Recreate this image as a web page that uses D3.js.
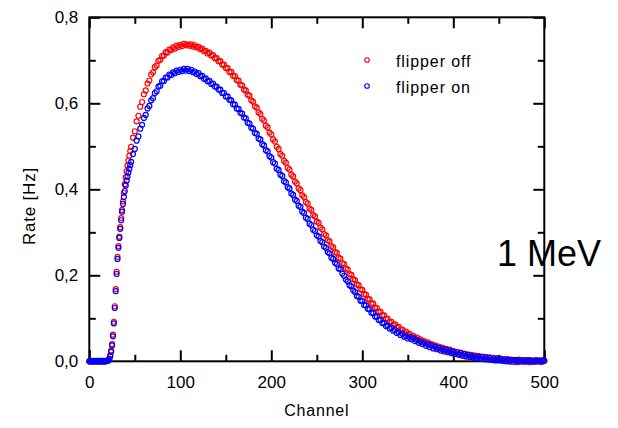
<!DOCTYPE html>
<html>
<head>
<meta charset="utf-8">
<script src="https://cdn.jsdelivr.net/npm/d3@7"></script>
<style>
  html, body { margin: 0; padding: 0; background: #ffffff; }
  svg { display: block; }
  text { font-family: "Liberation Sans", Arial, sans-serif; fill: #000; }
</style>
</head>
<body>
<svg id="chart" width="618" height="428"></svg>
<script>
// ---------------- data ----------------
const xTicks = [0, 100, 200, 300, 400, 500];
const yTicks = [0, 0.2, 0.4, 0.6, 0.8];
const yTickLabels = ["0,0", "0,2", "0,4", "0,6", "0,8"];
const seriesNames = ["flipper off", "flipper on"];
const seriesColors = ["#ff0000", "#0000ff"];

const channelsFine = [
  0,1,2,3,4,5,6,7,8,9,
  10,11,12,13,14,15,16,17,18,19,
  20,21,22,23,24,25,26,27,28,29,
  30,31,32,33,34,35,36,37,38,39,
  40,41,42,43,44,45
];
const offFine = [
  0.000,0.001,0.000,0.000,0.001,0.000,0.000,0.001,0.000,0.000,
  0.001,0.000,0.000,0.001,0.000,0.000,0.001,0.000,0.001,0.001,
  0.002,0.003,0.006,0.014,0.025,0.040,0.062,0.092,0.128,0.168,
  0.208,0.243,0.268,0.290,0.312,0.333,0.352,0.372,0.392,0.412,
  0.428,0.442,0.455,0.467,0.478,0.489
];
const onFine = [
  0.000,0.000,0.001,0.000,0.000,0.000,0.001,0.000,0.000,0.001,
  0.000,0.000,0.001,0.000,0.000,0.001,0.000,0.000,0.000,0.001,
  0.001,0.002,0.005,0.012,0.022,0.037,0.058,0.088,0.124,0.163,
  0.203,0.238,0.264,0.287,0.308,0.328,0.348,0.366,0.382,0.396,
  0.409,0.420,0.430,0.439,0.448,0.456
];

const channelsCoarse = [
  46,48,50,52,54,56,58,60,62,64,
  66,68,70,72,74,76,78,80,82,84,
  86,88,90,92,94,96,98,100,102,104,
  106,108,110,112,114,116,118,120,122,124,
  126,128,130,132,134,136,138,140,142,144,
  146,148,150,152,154,156,158,160,162,164,
  166,168,170,172,174,176,178,180,182,184,
  186,188,190,192,194,196,198,200,202,204,
  206,208,210,212,214,216,218,220,222,224,
  226,228,230,232,234,236,238,240,242,244,
  246,248,250,252,254,256,258,260,262,264,
  266,268,270,272,274,276,278,280,282,284,
  286,288,290,292,294,296,298,300,302,304,
  306,308,310,312,314,316,318,320,322,324,
  326,328,330,332,334,336,338,340,342,344,
  346,348,350,352,354,356,358,360,362,364,
  366,368,370,372,374,376,378,380,382,384,
  386,388,390,392,394,396,398,400,402,404,
  406,408,410,412,414,416,418,420,422,424,
  426,428,430,432,434,436,438,440,442,444,
  446,448,450,452,454,456,458,460,462,464,
  466,468,470,472,474,476,478,480,482,484,
  486,488,490,492,494,496,498,500
];
const offCoarse = [
  0.499,0.520,0.535,0.558,0.571,0.592,0.603,0.621,0.630,0.646,
  0.653,0.667,0.672,0.684,0.688,0.699,0.701,0.710,0.711,0.719,
  0.718,0.725,0.724,0.730,0.727,0.734,0.731,0.736,0.733,0.738,
  0.735,0.737,0.734,0.737,0.732,0.735,0.730,0.731,0.726,0.727,
  0.721,0.722,0.716,0.718,0.711,0.712,0.705,0.705,0.698,0.698,
  0.690,0.690,0.682,0.682,0.673,0.673,0.664,0.663,0.654,0.653,
  0.643,0.642,0.632,0.630,0.620,0.618,0.607,0.604,0.593,0.590,
  0.579,0.575,0.564,0.560,0.548,0.544,0.532,0.528,0.516,0.511,
  0.499,0.494,0.482,0.478,0.466,0.462,0.450,0.446,0.434,0.430,
  0.418,0.414,0.402,0.398,0.386,0.382,0.370,0.367,0.355,0.352,
  0.340,0.337,0.325,0.322,0.311,0.307,0.296,0.293,0.282,0.279,
  0.268,0.265,0.254,0.252,0.241,0.239,0.228,0.226,0.216,0.213,
  0.203,0.201,0.191,0.189,0.179,0.177,0.167,0.166,0.156,0.155,
  0.145,0.144,0.135,0.134,0.125,0.124,0.115,0.115,0.107,0.107,
  0.099,0.099,0.091,0.092,0.085,0.086,0.079,0.080,0.073,0.074,
  0.067,0.069,0.062,0.064,0.057,0.059,0.053,0.055,0.049,0.051,
  0.045,0.047,0.041,0.044,0.038,0.040,0.035,0.037,0.032,0.034,
  0.029,0.032,0.026,0.029,0.024,0.027,0.022,0.024,0.019,0.022,
  0.017,0.020,0.015,0.018,0.013,0.016,0.011,0.015,0.010,0.013,
  0.009,0.012,0.007,0.011,0.006,0.010,0.005,0.009,0.004,0.008,
  0.003,0.007,0.003,0.006,0.002,0.005,0.001,0.005,-0.001,0.004,
  0.002,0.003,-0.002,0.004,0.001,0.003,-0.001,0.002,0.003,-0.002,
  0.002,0.001,-0.001,0.003,0.000,0.002,-0.001,0.001
];
const onCoarse = [
  0.464,0.482,0.494,0.513,0.523,0.541,0.550,0.566,0.573,0.588,
  0.594,0.607,0.612,0.624,0.628,0.639,0.641,0.651,0.652,0.660,
  0.660,0.667,0.666,0.672,0.670,0.676,0.673,0.678,0.675,0.680,
  0.676,0.680,0.675,0.678,0.672,0.674,0.668,0.670,0.663,0.664,
  0.657,0.658,0.651,0.652,0.645,0.646,0.639,0.639,0.632,0.632,
  0.624,0.624,0.616,0.616,0.608,0.607,0.598,0.597,0.588,0.587,
  0.578,0.576,0.567,0.565,0.555,0.553,0.543,0.541,0.531,0.529,
  0.518,0.516,0.505,0.502,0.491,0.488,0.477,0.474,0.463,0.460,
  0.448,0.445,0.434,0.431,0.419,0.416,0.405,0.402,0.390,0.387,
  0.376,0.373,0.362,0.359,0.348,0.345,0.334,0.331,0.320,0.317,
  0.306,0.303,0.293,0.290,0.280,0.277,0.267,0.264,0.254,0.251,
  0.241,0.238,0.229,0.226,0.216,0.214,0.204,0.199,0.190,0.186,
  0.177,0.174,0.165,0.161,0.152,0.150,0.141,0.140,0.131,0.130,
  0.122,0.121,0.113,0.112,0.104,0.104,0.096,0.096,0.089,0.089,
  0.082,0.083,0.076,0.078,0.071,0.073,0.066,0.068,0.061,0.064,
  0.057,0.059,0.053,0.056,0.051,0.054,0.047,0.050,0.043,0.046,
  0.040,0.043,0.036,0.040,0.033,0.037,0.030,0.034,0.028,0.031,
  0.025,0.029,0.023,0.027,0.021,0.025,0.019,0.023,0.017,0.021,
  0.015,0.019,0.013,0.017,0.011,0.015,0.010,0.013,0.008,0.012,
  0.007,0.011,0.006,0.010,0.005,0.009,0.004,0.008,0.003,0.007,
  0.002,0.006,0.002,0.005,0.001,0.004,0.000,0.004,0.001,0.003,
  -0.001,0.003,0.001,0.002,-0.001,0.003,0.000,0.002,-0.001,0.002,
  0.001,-0.001,0.002,0.000,0.001,-0.001,0.002,0.001
];

const channels = channelsFine.concat(channelsCoarse);
const flipperOff = offFine.concat(offCoarse);
const flipperOn = onFine.concat(onCoarse);

// ---------------- layout ----------------
const svg = d3.select("#chart");
const plotLeft = 89.3, plotRight = 544.3, plotTop = 17.3, plotBottom = 361.3;

const x = d3.scaleLinear().domain([0, 500]).range([plotLeft, plotRight]);
const y = d3.scaleLinear().domain([0, 0.8]).range([plotBottom, plotTop]);

const majorLen = 11, minorLen = 6.5;
const xMinor = [50, 150, 250, 350, 450];
const yMinor = [0.1, 0.3, 0.5, 0.7];

// bottom axis (ticks inward)
const gB = svg.append("g").attr("transform", `translate(0,${plotBottom})`)
  .call(d3.axisBottom(x).tickValues(xTicks).tickSize(-majorLen).tickPadding(15).tickFormat(d3.format("d")));
const gBm = svg.append("g").attr("transform", `translate(0,${plotBottom})`)
  .call(d3.axisBottom(x).tickValues(xMinor).tickSize(-minorLen).tickFormat(""));

// top axis
const gT = svg.append("g").attr("transform", `translate(0,${plotTop})`)
  .call(d3.axisTop(x).tickValues(xTicks).tickSize(-majorLen).tickFormat(""));
const gTm = svg.append("g").attr("transform", `translate(0,${plotTop})`)
  .call(d3.axisTop(x).tickValues(xMinor).tickSize(-minorLen).tickFormat(""));

// left axis
const gL = svg.append("g").attr("transform", `translate(${plotLeft},0)`)
  .call(d3.axisLeft(y).tickValues(yTicks).tickSize(-majorLen).tickPadding(11)
    .tickFormat((d, i) => yTickLabels[i]));
const gLm = svg.append("g").attr("transform", `translate(${plotLeft},0)`)
  .call(d3.axisLeft(y).tickValues(yMinor).tickSize(-minorLen).tickFormat(""));

// right axis
const gR = svg.append("g").attr("transform", `translate(${plotRight},0)`)
  .call(d3.axisRight(y).tickValues(yTicks).tickSize(-majorLen).tickFormat(""));
const gRm = svg.append("g").attr("transform", `translate(${plotRight},0)`)
  .call(d3.axisRight(y).tickValues(yMinor).tickSize(-minorLen).tickFormat(""));

[gB, gBm, gT, gTm, gL, gLm, gR, gRm].forEach(g => {
  g.select(".domain").remove();
  g.selectAll(".tick line").attr("stroke", "#000").attr("stroke-width", 2);
  g.selectAll(".tick text").attr("font-family", "'Liberation Sans', Arial, sans-serif")
    .attr("font-size", 17).attr("fill", "#000");
});

// frame rectangle
svg.append("rect").attr("x", plotLeft).attr("y", plotTop)
  .attr("width", plotRight - plotLeft).attr("height", plotBottom - plotTop)
  .attr("fill", "none").attr("stroke", "#000").attr("stroke-width", 2);

// ---------------- points ----------------
const markerR = 2.5;
const seriesData = [flipperOff, flipperOn];
seriesData.forEach((vals, si) => {
  const pts = channels.map((c, i) => ({c, v: vals[i]})).filter(d => d.v !== undefined);
  svg.append("g")
    .attr("fill", "none")
    .attr("stroke", seriesColors[si])
    .attr("stroke-width", 1.2)
    .selectAll("circle")
    .data(pts)
    .join("circle")
    .attr("cx", d => x(d.c))
    .attr("cy", d => y(d.v))
    .attr("r", markerR);
});

// ---------------- legend ----------------
const legendY = [60, 86];
seriesNames.forEach((name, i) => {
  svg.append("circle").attr("cx", 367).attr("cy", legendY[i]).attr("r", 2.3)
    .attr("fill", "none").attr("stroke", seriesColors[i]).attr("stroke-width", 1.1);
  svg.append("text").attr("x", 396).attr("y", legendY[i] + 6.5)
    .attr("font-size", 16).attr("letter-spacing", 0.9).text(name);
});

// ---------------- titles ----------------
svg.append("text").attr("x", (plotLeft + plotRight) / 2).attr("y", 416)
  .attr("text-anchor", "middle").attr("font-size", 16).attr("letter-spacing", 0.8).text("Channel");
svg.append("text").attr("transform", "translate(35,206) rotate(-90)")
  .attr("text-anchor", "middle").attr("font-size", 17).attr("letter-spacing", 0.8).text("Rate [Hz]");
svg.append("text").attr("x", 497).attr("y", 266)
  .attr("font-size", 36).text("1 MeV");
</script>
</body>
</html>
